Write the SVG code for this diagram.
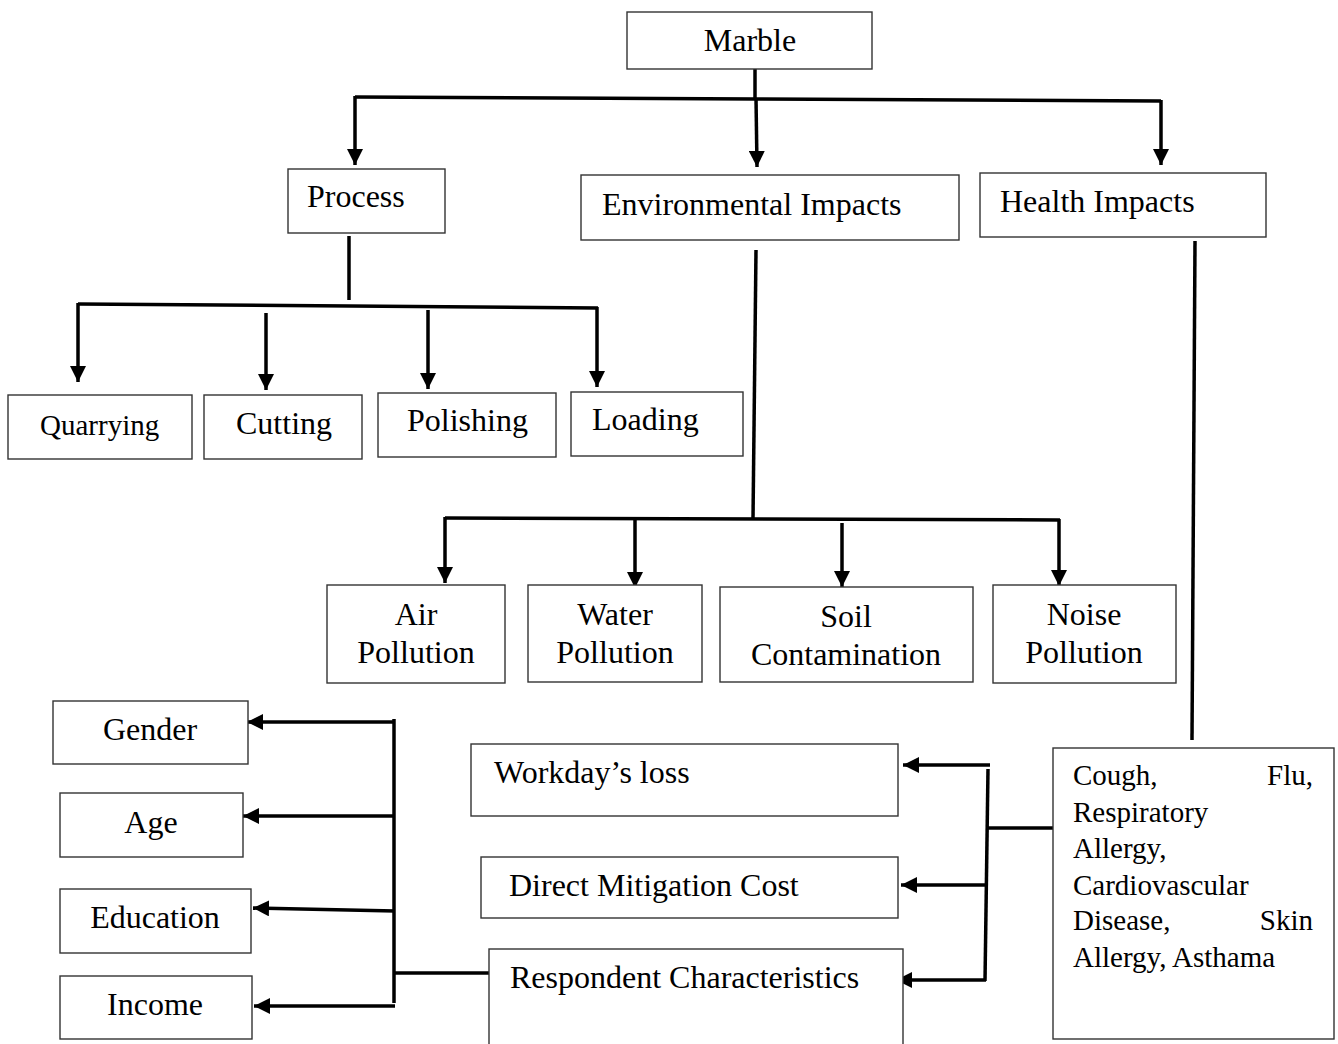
<svg xmlns="http://www.w3.org/2000/svg" width="1338" height="1044" viewBox="0 0 1338 1044">
<defs>
<marker id="ah" markerUnits="userSpaceOnUse" viewBox="0 0 16 16" markerWidth="16" markerHeight="16" refX="16" refY="8" orient="auto">
<path d="M0,0 L16,8 L0,16 z" fill="#000"/>
</marker>
<style>
.box{fill:#fff;stroke:#333;stroke-width:1.4}
.t{font-family:"Liberation Serif","Times New Roman",serif;font-size:32px;fill:#000}
.s{font-family:"Liberation Serif","Times New Roman",serif;font-size:29px;fill:#000}
.c{text-anchor:middle}
.ln{stroke:#000;stroke-width:3.5;fill:none}
.ar{stroke:#000;stroke-width:3.5;fill:none;marker-end:url(#ah)}
</style>
</defs>
<rect width="1338" height="1044" fill="#fff"/>

<g id="connectors">
<line class="ln" x1="755" y1="59" x2="755" y2="99"/>
<polyline class="ln" points="355,97 755,99 1161,101"/>
<line class="ar" x1="355" y1="96" x2="355" y2="165"/>
<line class="ar" x1="756" y1="98" x2="757" y2="167"/>
<line class="ar" x1="1161" y1="100" x2="1161" y2="165"/>

<line class="ln" x1="349" y1="236" x2="349" y2="300"/>
<line class="ln" x1="78" y1="304" x2="598" y2="308"/>
<line class="ar" x1="78" y1="303" x2="78" y2="382"/>
<line class="ar" x1="266" y1="313" x2="266" y2="390"/>
<line class="ar" x1="428" y1="310" x2="428" y2="389"/>
<line class="ar" x1="597" y1="307" x2="597" y2="387"/>

<line class="ln" x1="756" y1="250" x2="753" y2="519"/>
<line class="ln" x1="445" y1="518" x2="1060" y2="520"/>
<line class="ar" x1="445" y1="517" x2="445" y2="583"/>
<line class="ar" x1="635" y1="518" x2="635" y2="588"/>
<line class="ar" x1="842" y1="523" x2="842" y2="587"/>
<line class="ar" x1="1059" y1="519" x2="1059" y2="586"/>

<line class="ln" x1="1195" y1="241" x2="1192" y2="740"/>
<line class="ln" x1="1053" y1="828" x2="987" y2="828"/>
<line class="ln" x1="988" y1="769" x2="985" y2="981"/>
<line class="ar" x1="990" y1="765" x2="903" y2="765"/>
<line class="ar" x1="987" y1="885" x2="901" y2="885"/>
<line class="ar" x1="986" y1="980" x2="896" y2="980"/>

<line class="ln" x1="489" y1="973" x2="394" y2="973"/>
<line class="ln" x1="394" y1="719" x2="394" y2="1003"/>
<line class="ar" x1="395" y1="722" x2="247" y2="722"/>
<line class="ar" x1="395" y1="816" x2="243" y2="816"/>
<line class="ar" x1="395" y1="911" x2="253" y2="908"/>
<line class="ar" x1="395" y1="1006" x2="254" y2="1006"/>
</g>

<g id="marble"><rect class="box" x="627" y="12" width="245" height="57"/><text class="t c" x="750" y="51">Marble</text></g>
<g id="process"><rect class="box" x="288" y="169" width="157" height="64"/><text class="t" x="307" y="207">Process</text></g>
<g id="environmental"><rect class="box" x="581" y="175" width="378" height="65"/><text class="t" x="602" y="215">Environmental Impacts</text></g>
<g id="health"><rect class="box" x="980" y="173" width="286" height="64"/><text class="t" x="1000" y="212">Health Impacts</text></g>

<g id="quarrying"><rect class="box" x="8" y="395" width="184" height="64"/><text class="t" x="40" y="435" style="font-size:29px">Quarrying</text></g>
<g id="cutting"><rect class="box" x="204" y="395" width="158" height="64"/><text class="t" x="236" y="434">Cutting</text></g>
<g id="polishing"><rect class="box" x="378" y="393" width="178" height="64"/><text class="t" x="407" y="431">Polishing</text></g>
<g id="loading"><rect class="box" x="571" y="392" width="172" height="64"/><text class="t" x="592" y="430">Loading</text></g>

<g id="air"><rect class="box" x="327" y="585" width="178" height="98"/><text class="t c" x="416" y="625">Air</text><text class="t c" x="416" y="663">Pollution</text></g>
<g id="water"><rect class="box" x="528" y="585" width="174" height="97"/><text class="t c" x="615" y="625">Water</text><text class="t c" x="615" y="663">Pollution</text></g>
<g id="soil"><rect class="box" x="720" y="587" width="253" height="95"/><text class="t c" x="846" y="627">Soil</text><text class="t c" x="846" y="665">Contamination</text></g>
<g id="noise"><rect class="box" x="993" y="585" width="183" height="98"/><text class="t c" x="1084" y="625">Noise</text><text class="t c" x="1084" y="663">Pollution</text></g>

<g id="diseases"><rect class="box" x="1053" y="748" width="281" height="291"/>
<text class="s" x="1073" y="785">Cough,</text><text class="s" x="1313" y="785" text-anchor="end">Flu,</text>
<text class="s" x="1073" y="822">Respiratory</text>
<text class="s" x="1073" y="858">Allergy,</text>
<text class="s" x="1073" y="895">Cardiovascular</text>
<text class="s" x="1073" y="930">Disease,</text><text class="s" x="1313" y="930" text-anchor="end">Skin</text>
<text class="s" x="1073" y="967">Allergy, Asthama</text>
</g>

<g id="workday"><rect class="box" x="471" y="744" width="427" height="72"/><text class="t" x="494" y="783">Workday’s loss</text></g>
<g id="mitigation"><rect class="box" x="481" y="857" width="417" height="61"/><text class="t" x="509" y="896">Direct Mitigation Cost</text></g>
<g id="respondent"><rect class="box" x="489" y="949" width="414" height="110"/><text class="t" x="510" y="988">Respondent Characteristics</text></g>

<g id="gender"><rect class="box" x="53" y="701" width="195" height="63"/><text class="t c" x="150" y="740">Gender</text></g>
<g id="age"><rect class="box" x="60" y="793" width="183" height="64"/><text class="t c" x="151" y="833">Age</text></g>
<g id="education"><rect class="box" x="60" y="889" width="191" height="64"/><text class="t c" x="155" y="928">Education</text></g>
<g id="income"><rect class="box" x="60" y="976" width="192" height="63"/><text class="t c" x="155" y="1015">Income</text></g>
</svg>
